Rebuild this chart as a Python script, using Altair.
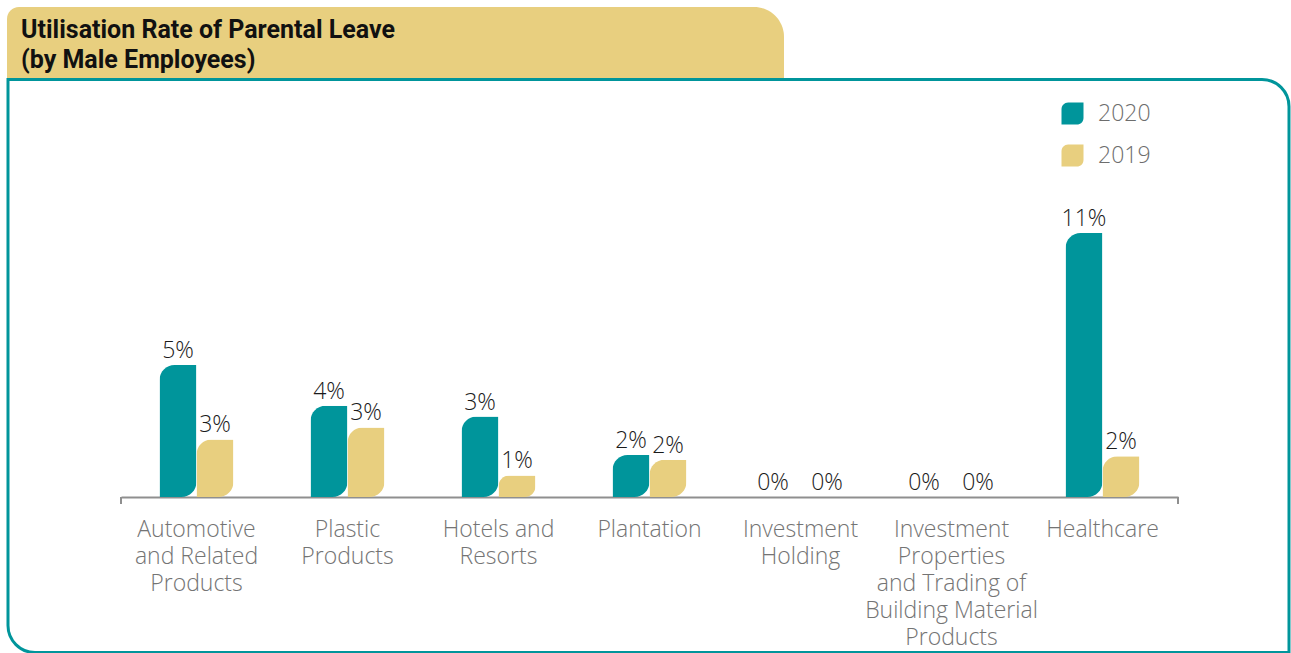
import altair as alt
import pandas as pd

# ---- data ----
categories = [
    "Automotive\nand Related\nProducts",
    "Plastic\nProducts",
    "Hotels and\nResorts",
    "Plantation",
    "Investment\nHolding",
    "Investment\nProperties\nand Trading of\nBuilding Material\nProducts",
    "Healthcare",
]
years = ["2020", "2019"]
values_2020 = [5.5, 3.8, 3.35, 1.75, 0.0, 0.0, 11.0]
values_2019 = [2.4, 2.9, 0.9, 1.55, 0.0, 0.0, 1.7]
labels_2020 = ["5%", "4%", "3%", "2%", "0%", "0%", "11%"]
labels_2019 = ["3%", "3%", "1%", "2%", "0%", "0%", "2%"]
title_lines = ["Utilisation Rate of Parental Leave", "(by Male Employees)"]

TEAL = "#00959B"
GOLD = "#E8CF7F"
FONT = "Open Sans"

rows = []
for i, c in enumerate(categories):
    rows.append({"category": c, "year": "2020", "value": values_2020[i], "label": labels_2020[i]})
    rows.append({"category": c, "year": "2019", "value": values_2019[i], "label": labels_2019[i]})
df = pd.DataFrame(rows)
dummy = pd.DataFrame({"d": [0]})

x_scale = alt.Scale(domain=categories, range=[121, 1178], paddingInner=0.51, paddingOuter=0.255)
y_scale = alt.Scale(domain=[0, 15], range=[497, 137])
xo_scale = alt.Scale(domain=years, paddingInner=0, paddingOuter=0)

x_axis = alt.Axis(
    title=None, domain=True, domainColor="#8f8f8f", domainWidth=2, ticks=False,
    labelExpr="split(datum.label, '\\n')", labelFont=FONT, labelFontSize=23,
    labelFontWeight=300, labelColor="#747474", labelLineHeight=27,
    labelPadding=21, offset=-156,
    labelAngle=0, labelLimit=0, labelOverlap=False, labelFlush=False,
    labelBaseline="top", grid=False,
)

leaf = "M-1,1L-1,-0.4A0.6,0.6,0,0,1,-0.4,-1L1,-1L1,0.4A0.6,0.6,0,0,1,0.4,1Z"

# ---- decorations ----
tab = alt.Chart(dummy).mark_rect(
    color=GOLD, cornerRadiusTopRight=30, cornerRadiusTopLeft=12
).encode(x=alt.value(7), x2=alt.value(784), y=alt.value(7), y2=alt.value(79))

frame = alt.Chart(dummy).mark_rect(
    fillOpacity=0, stroke=TEAL, strokeWidth=3,
    cornerRadiusTopRight=27, cornerRadiusBottomLeft=27,
).encode(x=alt.value(8), x2=alt.value(1289), y=alt.value(79.5), y2=alt.value(652.5))

title = alt.Chart(dummy).mark_text(
    text=title_lines, align="left", baseline="alphabetic", font="Roboto",
    fontWeight="bold", fontSize=25, lineHeight=30, color="#111111",
).encode(x=alt.value(21), y=alt.value(38))

tick_l = alt.Chart(dummy).mark_rule(color="#8f8f8f", strokeWidth=2).encode(
    x=alt.value(121), y=alt.value(497), y2=alt.value(504))
tick_r = alt.Chart(dummy).mark_rule(color="#8f8f8f", strokeWidth=2).encode(
    x=alt.value(1178), y=alt.value(497), y2=alt.value(504))

# ---- data marks ----
enc_x = alt.X("category:N", scale=x_scale, axis=x_axis, sort=categories)
enc_xo = alt.XOffset("year:N", scale=xo_scale, sort=years)
enc_y = alt.Y("value:Q", scale=y_scale, axis=None)

bars = alt.Chart(df).transform_filter("datum.value > 0").mark_bar(
    cornerRadiusTopLeft=15, cornerRadiusBottomRight=15, opacity=1
).encode(
    x=enc_x, xOffset=enc_xo, y=enc_y,
    color=alt.Color(
        "year:N", scale=alt.Scale(domain=years, range=[TEAL, GOLD]),
        legend=alt.Legend(
            orient="none", legendX=1061, legendY=102, title=None, padding=0,
            symbolType=leaf, symbolSize=484, symbolStrokeWidth=0, symbolOpacity=1,
            labelFont=FONT, labelFontSize=23, labelFontWeight=300,
            labelColor="#6d6d6d", labelOffset=14, rowPadding=18,
        ),
    ),
)

text_style = dict(font=FONT, fontSize=23, fontWeight=300, color="#1a1a1a",
                  baseline="alphabetic", dy=-7)

texts = alt.Chart(df).transform_filter("datum.value > 0").mark_text(**text_style).encode(
    x=enc_x, xOffset=enc_xo, y=enc_y, text="label:N",
)
zero_2020 = alt.Chart(df).transform_filter(
    "datum.value == 0 && datum.year == '2020'"
).mark_text(dx=-9, **text_style).encode(x=enc_x, xOffset=enc_xo, y=enc_y, text="label:N")
zero_2019 = alt.Chart(df).transform_filter(
    "datum.value == 0 && datum.year == '2019'"
).mark_text(dx=8, **text_style).encode(x=enc_x, xOffset=enc_xo, y=enc_y, text="label:N")

chart = alt.layer(tab, frame, title, bars, texts, zero_2020, zero_2019, tick_l, tick_r).properties(
    width=1291, height=653,
    autosize=alt.AutoSizeParams(type="none"),
    padding=0, background="white",
).configure_view(stroke=None)

chart.save("out.html", embed_options={"renderer": "svg", "actions": False})
